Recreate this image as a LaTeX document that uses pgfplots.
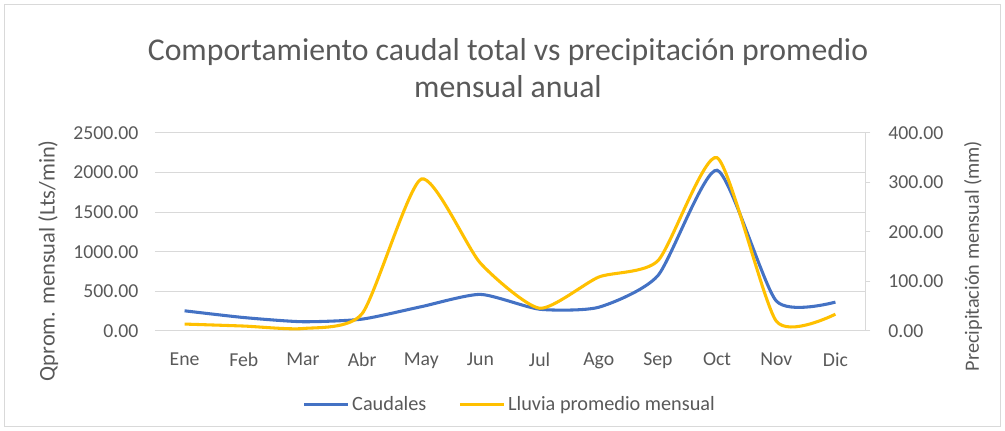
\documentclass[border=0pt]{standalone}
\usepackage{pgfplots}
\pgfplotsset{compat=1.18}
\usepackage{fontspec}
\setmainfont{Carlito}
\definecolor{cblue}{HTML}{4472C4}
\definecolor{cyel}{HTML}{FFC000}
\definecolor{txt}{HTML}{595959}
\definecolor{grd}{HTML}{D9D9D9}
\begin{document}
\begin{tikzpicture}[x=1pt,y=1pt]
% bounding box and frame (1px = 0.75pt; axis origin at pixel (155,331))
\path (-116.25,-75) rectangle (637.5,248.25);
\draw[color=grd,line width=0.75pt] (-112.5,-71.5) rectangle (634,244.5);
\pgfplotsset{
  common/.style={
    at={(0,0)}, anchor=south west,
    scale only axis, width=532.5pt, height=148.5pt,
    xmin=-0.5, xmax=11.5,
    xtick={0,...,11},
    ticklabel style={font=\fontsize{14.8}{17}\selectfont, text=txt},
    label style={font=\fontsize{16.8}{19}\selectfont, text=txt},
    /pgf/number format/assume math mode=true,
    /pgf/number format/.cd, fixed, fixed zerofill, precision=2, 1000 sep={},
  }
}
\begin{axis}[common,
  ymin=0, ymax=2500, ytick={0,500,...,2500},
  xticklabels={Ene,Feb,Mar,Abr,May,Jun,Jul,Ago,Sep,Oct,Nov,Dic},
  axis x line*=bottom, axis y line*=left,
  x axis line style={draw=grd, line width=0.75pt, -},
  y axis line style={draw=none},
  major tick length=0pt,
  ymajorgrids, grid style={draw=grd, line width=0.75pt},
  yticklabel style={xshift=-9pt},
  xticklabel style={yshift=-13pt},
  ylabel={Qprom. mensual (Lts/min)},
  ylabel style={at={(rel axis cs:0,0.5)}, anchor=center, yshift=80pt, xshift=-21.5pt},
]
\addplot[cblue, line width=2.3pt, smooth, tension=0.38] coordinates {
(0,255) (1,170) (2,117) (3,150) (4,307) (5,462) (6,275) (7,300) (8,700) (9,2030) (10,380) (11,365)
};
\end{axis}
\begin{axis}[common,
  ymin=0, ymax=400, ytick={0,100,...,400},
  xticklabels={},
  axis x line=none, axis y line*=right,
  y axis line style={draw=grd, line width=0.75pt, -},
  ytick style={draw=grd, line width=0.75pt},
  tick align=outside, major tick length=4pt,
  yticklabel style={xshift=10pt},
  ylabel={Precipitación mensual (mm)},
  ylabel style={at={(rel axis cs:1,0.5)}, anchor=center, yshift=-81pt, xshift=-18pt,
    font=\fontsize{15.2}{17}\selectfont},
  legend style={at={(rel axis cs:0.5,-0.369)}, anchor=center, draw=none, fill=none,
    legend columns=2, font=\fontsize{15.2}{17}\selectfont, text=txt,
    /tikz/every even column/.append style={column sep=22pt}},
  legend image code/.code={\draw[#1, line width=2.3pt] (0pt,0pt) -- (33pt,0pt);},
]
\addlegendimage{cblue}
\addlegendentry{Caudales}
\addplot[cyel, line width=2.3pt, smooth, tension=0.38] coordinates {
(0,14) (1,10) (2,5) (3,35) (4,307) (5,137) (6,46) (7,109) (8,142) (9,350) (10,20) (11,34)
};
\addlegendentry{Lluvia promedio mensual}
\end{axis}
\node[font=\fontsize{23.8}{28}\selectfont, text=txt, align=center] at (264.75,197)
  {Comportamiento caudal total vs precipitación promedio\\mensual anual};
\end{tikzpicture}
\end{document}
